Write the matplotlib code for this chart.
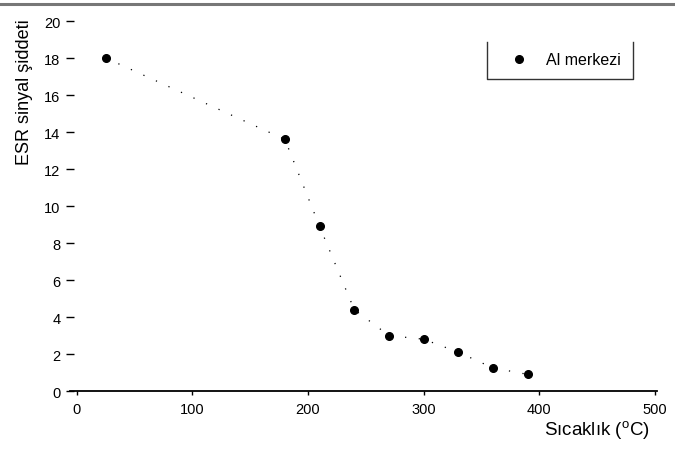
import matplotlib.pyplot as plt
from matplotlib.lines import Line2D

plt.rcParams["font.family"] = ["Liberation Sans", "DejaVu Sans"]
plt.rcParams["mathtext.fontset"] = "custom"
plt.rcParams["mathtext.rm"] = "Liberation Sans"

# data
temperature = [25, 180, 210, 240, 270, 300, 330, 360, 390]
intensity = [18.0, 13.6, 8.9, 4.4, 3.0, 2.8, 2.1, 1.25, 0.9]
series_label = "Al merkezi"
x_ticks = [0, 100, 200, 300, 400, 500]
y_ticks = [0, 2, 4, 6, 8, 10, 12, 14, 16, 18, 20]


def main():
    fig = plt.figure(figsize=(6.75, 4.52), dpi=100)
    ax = fig.add_axes([0.1037, 0.1327, 0.8696, 0.8186])

    ax.plot(temperature, intensity, color="black", linestyle=(0, (1, 10)),
            linewidth=0.9, marker="o", markersize=5.5)

    ax.set_xlim(-6, 502)
    ax.set_ylim(0, 20)
    ax.set_xticks(x_ticks)
    ax.set_yticks(y_ticks)

    for side in ("top", "right", "left"):
        ax.spines[side].set_visible(False)
    ax.spines["bottom"].set_linewidth(1.3)

    ax.tick_params(axis="x", direction="out", length=3, width=1, pad=5,
                   labelsize=10.5)
    ax.tick_params(axis="y", direction="inout", length=6, width=1, pad=4,
                   labelsize=10.5)

    ax.set_xlabel(r"Sıcaklık ($^{\rm o}$C)", fontsize=13.5, ha="right")
    ax.xaxis.set_label_coords(0.988, -0.075)
    ax.set_ylabel("ESR sinyal şiddeti", fontsize=13, va="center")
    ax.yaxis.set_label_coords(-0.077, 0.81)

    # legend with open-top frame, marker only
    handle = Line2D([], [], color="black", linestyle="none", marker="o",
                    markersize=5.5)
    ax.legend([handle], [series_label], loc="center",
              bbox_to_anchor=(0.845, 0.895), frameon=False, fontsize=11.5,
              handlelength=1.0, handletextpad=1.2)
    lx0, lx1, ly0, ly1 = 0.710, 0.959, 0.843, 0.943
    ax.plot([lx0, lx0, lx1, lx1], [ly1, ly0, ly0, ly1], color="#333333",
            linewidth=1, transform=ax.transAxes, clip_on=False)

    # grey rule across the top of the picture
    fig.add_artist(Line2D([0, 1], [0.988, 0.988], color="#777777",
                          linewidth=2.2, transform=fig.transFigure))

    fig.savefig("out.png", dpi=100)


if __name__ == "__main__":
    main()
